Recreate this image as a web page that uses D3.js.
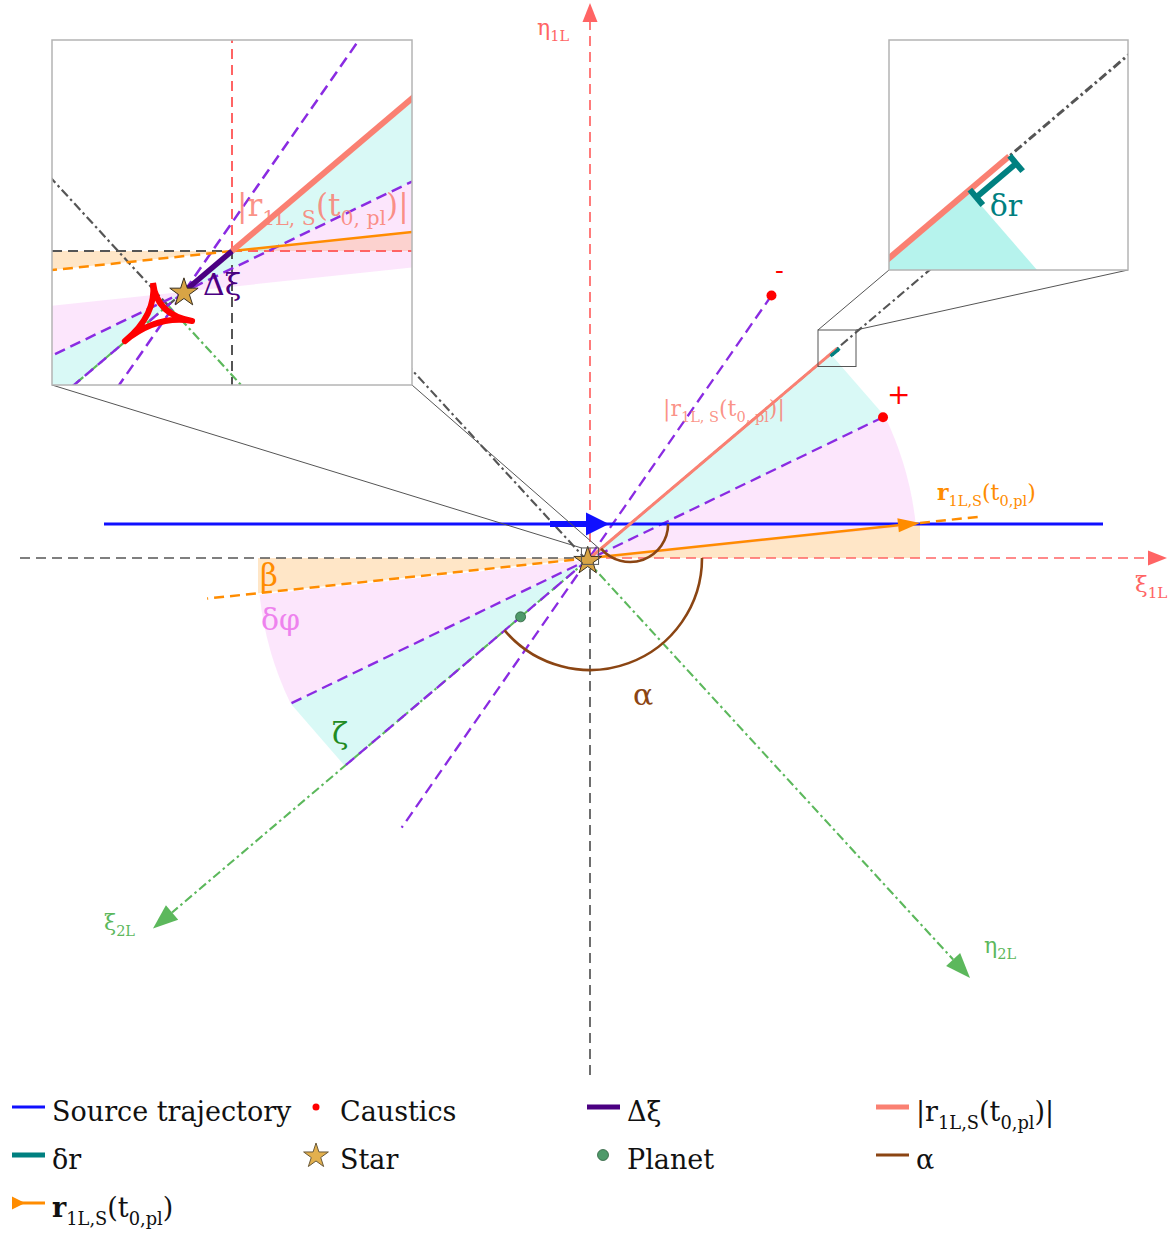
<!DOCTYPE html>
<html>
<head>
<meta charset="utf-8">
<script src="https://cdn.jsdelivr.net/npm/d3@7"></script>
<style>
  html, body { margin: 0; padding: 0; background: #fff; }
  svg { display: block; font-family: "DejaVu Serif", serif; }
  text { white-space: pre; }
</style>
</head>
<body>
<svg id="fig" width="1169" height="1237"></svg>
<script>
// ---------- lens geometry, in units of the ξ1L / η1L frame ----------
const rVec = [3.30, 0.35];            // r1L,S(t0,pl)
const rVecDash = [0.58, 3.85];        // dashed continuation beyond the tip / behind the origin
const betaEdgeLeft = 3.32;            // extent of the β wedge on the far side
const rAbs = 3.24;                    // |r1L,S(t0,pl)|
const xi2Deg = 40.3;                  // direction of −ξ2L (along |r1L,S|)
const eta2Deg = -47.45;               // direction of +η2L
const axis2Len = [5.69, 5.665];       // drawn lengths of ξ2L, η2L
const axis2Back = [5.0, 4.0];         // grey backward extensions of ξ2L, η2L
const axisXi1 = [-5.7, 5.77];         // ξ1L axis extent
const axisEta1 = [-5.17, 5.55];       // η1L axis extent
const deltaXi = 0.03;                 // Δξ: star offset from the ξ1L/η1L origin
const o2Offset = 0.04;                // origin of the ξ2L/η2L frame
const deltaRSpan = [3.158, 3.241];    // δr along |r1L,S|
const deltaROffset = 0.016;
const causticDeg = [55.2, 25.8];      // directions of the caustic points from the star
const causticR = [3.22, 3.28];
const causticBack = [3.26, 3.34];     // dashed guide length behind the star
const causticSign = ["-", "+"];
const wedgeR = 3.30;                  // δφ sector radius
const zetaR = 3.185;                  // ζ edge along ξ2L
const trajY = 0.34;                   // source trajectory
const trajX = [-4.86, 5.13];
const trajArrow = [-0.40, 0.19];
const alphaR = [1.12, 0.38];          // α arcs
const planetR = 0.91;
const causticCusps = [[-0.0376, -0.0152], [-0.0510, -0.0429], [-0.0190, -0.0333]];

// legend
const legendLabels = ["Source trajectory", "Caustics", "Δξ", "|r_{1L,S}(t_{0,pl})|",
                      "δr", "Star", "Planet", "α", "*r*_{1L,S}(t_{0,pl})"];
const legendKinds = ["line", "dot", "line", "line", "line", "star", "dot", "line", "arrow"];

const C = {
  blue: "#1010ff", red: "#ff0000", axisRed: "#ff6464", grey: "#555555",
  green: "#5cb85c", purple: "#8a2be2", salmon: "#fa8072", orange: "#ff8c00",
  teal: "#008080", indigo: "#4b0082", brown: "#8b4513", violet: "#ee82ee",
  turq: "#40e0d0", star: "#d8a445", planet: "#4f9a6a", zeta: "#228b22"
};
const legendColors = [C.blue, C.red, C.indigo, C.salmon, C.teal, C.star, C.planet, C.brown, C.orange];
const legendWidths = [3, 0, 5, 5, 5, 0, 0, 3, 3];

// ---------- helpers ----------
const svg = d3.select("#fig");
const defs = svg.append("defs");
const rad = d => d * Math.PI / 180;
const dir = d => [Math.cos(rad(d)), Math.sin(rad(d))];
const add = (p, q, k = 1) => [p[0] + k * q[0], p[1] + k * q[1]];

const star = add([0, 0], dir(xi2Deg), -deltaXi);
const o2 = add([0, 0], dir(xi2Deg), -o2Offset);

const xMain = d3.scaleLinear().domain([-5.9, 5.79]).range([0, 1169]);
const yMain = d3.scaleLinear().domain([5.58, -6.79]).range([0, 1237]);

function richText(sel, str, size, sub = 0.66, shift = 0.28) {
  const parts = str.split(/(_\{[^}]*\}|\*[^*]+\*)/).filter(s => s.length);
  let lowered = false;
  parts.forEach(p => {
    const ts = sel.append("tspan");
    if (p.startsWith("_{")) {
      ts.text(p.slice(2, -1)).attr("font-size", size * sub).attr("dy", lowered ? 0 : size * shift);
      lowered = true;
    } else {
      const bold = p.startsWith("*");
      ts.text(bold ? p.slice(1, -1) : p).attr("font-size", size).attr("dy", lowered ? -size * shift : 0);
      if (bold) ts.attr("font-weight", "bold");
      lowered = false;
    }
  });
  return sel;
}

function headAt(g, tip, from, len, hw, color) {
  const dx = tip[0] - from[0], dy = tip[1] - from[1];
  const L = Math.hypot(dx, dy), ux = dx / L, uy = dy / L;
  const bx = tip[0] - len * ux, by = tip[1] - len * uy;
  g.append("path")
    .attr("d", `M${tip[0]},${tip[1]}L${bx - hw * uy},${by + hw * ux}L${bx + hw * uy},${by - hw * ux}Z`)
    .attr("fill", color);
  return [bx, by];
}

// ---------- the scene (drawn at any magnification) ----------
function drawScene(g, sx, sy, st) {
  const S = p => [sx(p[0]), sy(p[1])];
  const k = sx(1) - sx(0);
  const poly = pts => "M" + pts.map(p => S(p).join(",")).join("L") + "Z";
  const seg = (a, b) => {
    const A = S(a), B = S(b);
    return g.append("line").attr("x1", A[0]).attr("y1", A[1]).attr("x2", B[0]).attr("y2", B[1]);
  };
  const segPx = (A, B) => g.append("line").attr("x1", A[0]).attr("y1", A[1]).attr("x2", B[0]).attr("y2", B[1]);
  const dashDot = "9,3.5,2.5,3.5";

  // β wedge (from the origin)
  const bt = rVec[1] / rVec[0];
  g.append("path").attr("d", poly([[0, 0], [rVec[0], 0], rVec]))
    .attr("fill", C.orange).attr("fill-opacity", 0.22);
  g.append("path").attr("d", poly([[0, 0], [-betaEdgeLeft, 0], [-betaEdgeLeft, -betaEdgeLeft * bt]]))
    .attr("fill", C.orange).attr("fill-opacity", 0.22);
  const betaDeg = Math.atan(bt) * 180 / Math.PI;

  // δφ sectors (from the star)
  [[betaDeg, causticDeg[1]], [betaDeg + 180, causticDeg[1] + 180]].forEach(([a0, a1]) => {
    const c = S(star), p0 = S(add(star, dir(a0), wedgeR));
    const p = d3.path();
    p.moveTo(c[0], c[1]); p.lineTo(p0[0], p0[1]);
    p.arc(c[0], c[1], wedgeR * k, -rad(a0), -rad(a1), true);
    p.closePath();
    g.append("path").attr("d", p.toString()).attr("fill", C.violet).attr("fill-opacity", 0.2);
  });

  // ζ wedges
  [0, 180].forEach(off => {
    g.append("path")
      .attr("d", poly([star, add(star, dir(causticDeg[1] + off), wedgeR), add(star, dir(xi2Deg + off), zetaR)]))
      .attr("fill", C.turq).attr("fill-opacity", st.cyanAlpha);
  });

  // ξ1L / η1L axes
  const O = S([0, 0]);
  seg([axisXi1[0], 0], [0, 0]).attr("stroke", C.grey).attr("stroke-width", st.axis).attr("stroke-dasharray", "10,6");
  seg([0, axisEta1[0]], [0, 0]).attr("stroke", C.grey).attr("stroke-width", st.axis).attr("stroke-dasharray", "10,6");
  const xTip = S([axisXi1[1], 0]);
  const xb = headAt(g, xTip, O, 19, 7.5, C.axisRed);
  segPx(O, xb).attr("stroke", C.axisRed).attr("stroke-width", st.axis).attr("stroke-dasharray", "10,6");
  const yTip = S([0, axisEta1[1]]);
  const yb = headAt(g, yTip, O, 19, 7.5, C.axisRed);
  segPx(O, yb).attr("stroke", C.axisRed).attr("stroke-width", st.axis).attr("stroke-dasharray", "10,6");

  // ξ2L / η2L axes and their backward extensions
  const O2 = S(o2);
  [[xi2Deg + 180, axis2Len[0]], [eta2Deg, axis2Len[1]]].forEach(([a, L]) => {
    const tip = S(add(o2, dir(a), L));
    const b = headAt(g, tip, O2, 25, 9.5, C.green);
    segPx(O2, b).attr("stroke", C.green).attr("stroke-width", st.dashdot).attr("stroke-dasharray", dashDot);
  });
  [[xi2Deg, axis2Back[0]], [eta2Deg + 180, axis2Back[1]]].forEach(([a, L]) => {
    seg(o2, add(o2, dir(a), L)).attr("stroke", C.grey).attr("stroke-width", st.dashdot).attr("stroke-dasharray", dashDot);
  });

  // dashed guides through the caustic points and along the ζ edge
  causticDeg.forEach((a, i) => {
    seg(add(star, dir(a), causticR[i]), add(star, dir(a), -causticBack[i]))
      .attr("stroke", C.purple).attr("stroke-width", st.purple).attr("stroke-dasharray", "11,6");
  });
  seg(star, add(star, dir(xi2Deg + 180), zetaR))
    .attr("stroke", C.purple).attr("stroke-width", st.purple).attr("stroke-dasharray", "11,6");

  // source trajectory with its arrow
  seg([trajX[0], trajY], [trajX[1], trajY]).attr("stroke", C.blue).attr("stroke-width", 3);
  const tTip = S([trajArrow[1], trajY]), tTail = S([trajArrow[0], trajY]);
  const tb = headAt(g, tTip, tTail, 23, 11.5, C.blue);
  segPx(tTail, tb).attr("stroke", C.blue).attr("stroke-width", 6);

  // r1L,S(t0,pl) vector
  const ru = dir(betaDeg);
  seg(rVec, add(rVec, ru, rVecDash[0])).attr("stroke", C.orange).attr("stroke-width", st.orange).attr("stroke-dasharray", "10,6");
  seg([0, 0], add([0, 0], ru, -rVecDash[1])).attr("stroke", C.orange).attr("stroke-width", st.orange).attr("stroke-dasharray", "10,6");
  const rb = headAt(g, S(rVec), O, 22, 7, C.orange);
  segPx(O, rb).attr("stroke", C.orange).attr("stroke-width", st.orange);

  // |r1L,S(t0,pl)|
  seg([0, 0], add([0, 0], dir(xi2Deg), rAbs)).attr("stroke", C.salmon).attr("stroke-width", st.salmon);

  // δr bracket
  const n = dir(xi2Deg - 90), u = dir(xi2Deg);
  const r0 = add(add([0, 0], u, deltaRSpan[0]), n, deltaROffset);
  const r1 = add(add([0, 0], u, deltaRSpan[1]), n, deltaROffset);
  [[r0, r1], [add(r0, n, -deltaROffset), add(r0, n, deltaROffset)], [add(r1, n, -deltaROffset), add(r1, n, deltaROffset)]]
    .forEach(([a, b]) => seg(a, b).attr("stroke", C.teal).attr("stroke-width", st.teal));

  // α arcs
  const arcCentres = [[0, 0], [trajY / Math.tan(rad(xi2Deg)), trajY]];
  arcCentres.forEach((c, i) => {
    const cc = S(c), p = d3.path();
    p.arc(cc[0], cc[1], alphaR[i] * k, 0, rad(180 - xi2Deg), false);
    g.append("path").attr("d", p.toString()).attr("fill", "none").attr("stroke", C.brown).attr("stroke-width", 2.6);
  });

  // caustic points
  causticDeg.forEach((a, i) => {
    const p = S(add(star, dir(a), causticR[i]));
    g.append("circle").attr("cx", p[0]).attr("cy", p[1]).attr("r", 5).attr("fill", C.red);
  });

  // caustic curve around the star
  const cen = [d3.mean(causticCusps, d => d[0]), d3.mean(causticCusps, d => d[1])].map((v, j) => j ? sy(v) : sx(v));
  const cp = causticCusps.map(S), cpath = d3.path();
  cpath.moveTo(cp[0][0], cp[0][1]);
  [1, 2, 0].forEach(j => cpath.quadraticCurveTo(cen[0], cen[1], cp[j][0], cp[j][1]));
  g.append("path").attr("d", cpath.toString()).attr("fill", "none").attr("stroke", C.red)
    .attr("stroke-width", st.caustic).attr("stroke-linejoin", "round");

  // Δξ
  seg(star, [0, 0]).attr("stroke", C.indigo).attr("stroke-width", st.dxi);

  // planet and star
  const pl = S(add([0, 0], dir(xi2Deg + 180), planetR));
  g.append("circle").attr("cx", pl[0]).attr("cy", pl[1]).attr("r", 5).attr("fill", C.planet)
    .attr("stroke", "#2f5f3f").attr("stroke-width", 0.8);
  const sp = S(star);
  g.append("path").attr("d", d3.symbol(d3.symbolStar, st.star)())
    .attr("transform", `translate(${sp[0]},${sp[1] + 1})`)
    .attr("fill", C.star).attr("stroke", "#3a3020").attr("stroke-width", 1);
}

// ---------- main view ----------
const main = svg.append("g");
drawScene(main, xMain, yMain, {
  salmon: 3, dxi: 3, caustic: 1.5, teal: 3.5, orange: 2.5, purple: 2.3, axis: 1.7,
  dashdot: 2.1, star: 240, cyanAlpha: 0.2
});

function label(g, sx, sy, p, str, size, color, opacity = 1) {
  const t = g.append("text").attr("x", sx(p[0])).attr("y", sy(p[1])).attr("fill", color)
    .attr("fill-opacity", opacity).attr("font-size", size);
  richText(t, str, size);
}

label(main, xMain, yMain, [-3.30, -0.28], "β", 31, C.orange);
label(main, xMain, yMain, [-3.29, -0.72], "δφ", 30, C.violet);
label(main, xMain, yMain, [-2.58, -1.86], "ζ", 30, C.zeta);
label(main, xMain, yMain, [0.43, -1.47], "α", 30, C.brown);
label(main, xMain, yMain, [0.73, 1.42], "|r_{1L, S}(t_{0, pl})|", 22, C.salmon, 0.85);
label(main, xMain, yMain, [3.47, 0.58], "*r*_{1L,S}(t_{0,pl})", 22, C.orange);
label(main, xMain, yMain, [1.85, 2.79], causticSign[0], 26, C.red);
label(main, xMain, yMain, [2.97, 1.54], causticSign[1], 28, C.red);
label(main, xMain, yMain, [-0.53, 5.23], "η_{1L}", 22, C.axisRed);
label(main, xMain, yMain, [5.45, -0.34], "ξ_{1L}", 23, C.axisRed);
label(main, xMain, yMain, [-4.86, -3.72], "ξ_{2L}", 22, C.green);
label(main, xMain, yMain, [3.94, -3.95], "η_{2L}", 22, C.green);

// ---------- magnified insets ----------
const insets = [
  { rect: [52, 40, 412, 385], u: [-0.0857, 0.0857], v: [-0.0638, 0.1005],
    style: { salmon: 6, dxi: 5.5, caustic: 6, teal: 5, orange: 2.5, purple: 2.5, axis: 2, dashdot: 2.2, star: 250, cyanAlpha: 0.2 },
    labels: (g, sx, sy) => {
      label(g, sx, sy, [0.0024, 0.0167], "|r_{1L, S}(t_{0, pl})|", 31, C.salmon, 0.85);
      label(g, sx, sy, [-0.0138, -0.021], "Δξ", 30, C.indigo);
    } },
  { rect: [889, 40, 1128, 270], u: [2.28, 2.66], v: [1.915, 2.28],
    style: { salmon: 6, dxi: 5, caustic: 4, teal: 6, orange: 2.5, purple: 2.5, axis: 2, dashdot: 3, star: 240, cyanAlpha: 0.38 },
    labels: (g, sx, sy) => {
      label(g, sx, sy, [2.44, 2.0], "δr", 30, C.teal);
    } }
];

insets.forEach((cfg, i) => {
  const [x0, y0, x1, y1] = cfg.rect;
  // marker box in the main view and connector lines
  const bx0 = xMain(cfg.u[0]), bx1 = xMain(cfg.u[1]), by0 = yMain(cfg.v[1]), by1 = yMain(cfg.v[0]);
  svg.append("rect").attr("x", bx0).attr("y", by0).attr("width", bx1 - bx0).attr("height", by1 - by0)
    .attr("fill", "none").attr("stroke", "#555").attr("stroke-width", 1);
  [[x0, bx0], [x1, bx1]].forEach(([ix, bx]) => {
    svg.append("line").attr("x1", ix).attr("y1", y1).attr("x2", bx).attr("y2", by0)
      .attr("stroke", "#555").attr("stroke-width", 1);
  });

  const sx = d3.scaleLinear().domain(cfg.u).range([x0, x1]);
  const sy = d3.scaleLinear().domain(cfg.v).range([y1, y0]);
  const id = "inset-clip-" + i;
  defs.append("clipPath").attr("id", id).append("rect")
    .attr("x", x0).attr("y", y0).attr("width", x1 - x0).attr("height", y1 - y0);
  const g = svg.append("g").attr("clip-path", `url(#${id})`);
  g.append("rect").attr("x", x0).attr("y", y0).attr("width", x1 - x0).attr("height", y1 - y0).attr("fill", "#fff");
  drawScene(g, sx, sy, cfg.style);
  cfg.labels(g, sx, sy);
  svg.append("rect").attr("x", x0).attr("y", y0).attr("width", x1 - x0).attr("height", y1 - y0)
    .attr("fill", "none").attr("stroke", "#b4b4b4").attr("stroke-width", 1.5);
});

// ---------- legend ----------
const colX = [12, 300, 587, 876];
const rowY = [1107, 1155, 1203];
const legend = svg.append("g");
legendLabels.forEach((lab, i) => {
  const x = colX[i % 4], y = rowY[Math.floor(i / 4)];
  const kind = legendKinds[i], col = legendColors[i];
  if (kind === "line") {
    legend.append("line").attr("x1", x).attr("x2", x + 33).attr("y1", y).attr("y2", y)
      .attr("stroke", col).attr("stroke-width", legendWidths[i]);
  } else if (kind === "dot") {
    legend.append("circle").attr("cx", x + 16).attr("cy", y).attr("r", i === 1 ? 3.5 : 5.5)
      .attr("fill", col).attr("stroke", i === 1 ? "none" : "#2f5f3f").attr("stroke-width", 0.8);
  } else if (kind === "star") {
    legend.append("path").attr("d", d3.symbol(d3.symbolStar, 190)())
      .attr("transform", `translate(${x + 16},${y + 1})`)
      .attr("fill", "#e2b04e").attr("stroke", "#6a5a3a").attr("stroke-width", 1);
  } else {
    legend.append("line").attr("x1", x).attr("x2", x + 33).attr("y1", y).attr("y2", y)
      .attr("stroke", col).attr("stroke-width", legendWidths[i]);
    legend.append("path").attr("d", `M${x + 13},${y}L${x},${y - 6.5}L${x},${y + 6.5}Z`).attr("fill", col);
  }
  const t = legend.append("text").attr("x", x + 40).attr("y", y + 14).attr("fill", "#111").attr("font-size", 27);
  richText(t, lab, 27);
});
</script>
</body>
</html>
